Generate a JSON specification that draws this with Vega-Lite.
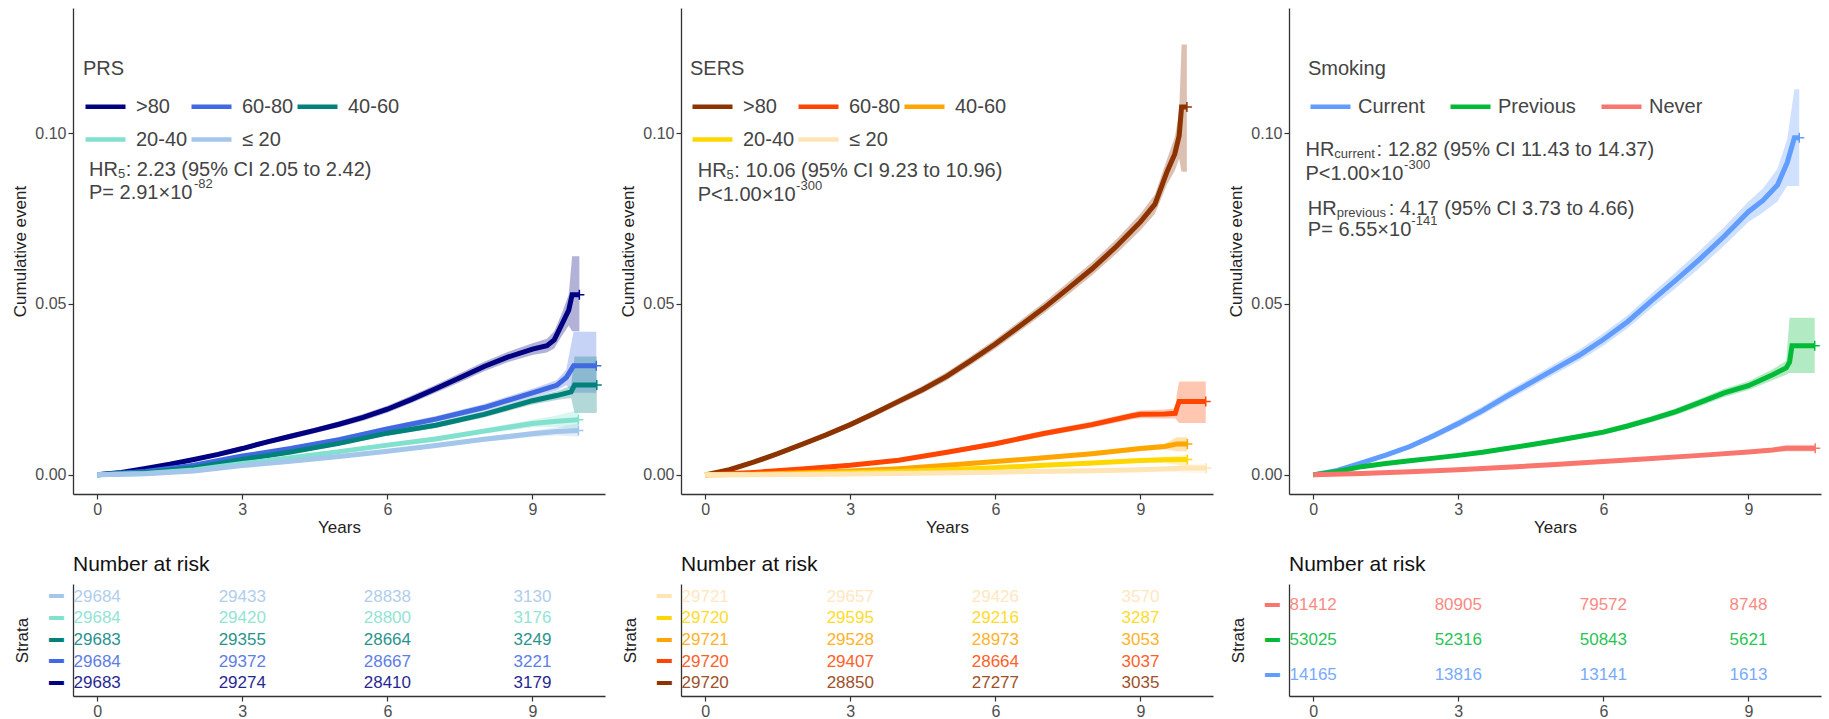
{
"$schema": "https://vega.github.io/schema/vega-lite/v6.json",
"padding": {"left": 11, "top": 8, "right": 0, "bottom": 0},
"background": "white",
"config": {
  "view": {"stroke": null},
  "font": "Liberation Sans",
  "axis": {"grid": false, "domainColor": "#333333", "domainWidth": 1.3, "tickColor": "#333333", "tickWidth": 1.2, "tickSize": 5, "labelFont": "Liberation Sans", "labelFontSize": 16, "labelColor": "#4d4d4d", "labelPadding": 2, "titleFont": "Liberation Sans", "titleFontSize": 17, "titleFontWeight": "normal", "titleColor": "#222222"},
  "legend": {"labelFont": "Liberation Sans", "titleFont": "Liberation Sans"}
},
"datasets": {
  "prs": [
    {"g":">80","t":0,"e":0,"lo":0,"hi":0},
    {"g":">80","t":0.5,"e":0.0007,"lo":0.0005,"hi":0.0009},
    {"g":">80","t":1,"e":0.0019,"lo":0.0016,"hi":0.0022},
    {"g":">80","t":1.5,"e":0.0031,"lo":0.0027,"hi":0.0035},
    {"g":">80","t":2,"e":0.0045,"lo":0.0040,"hi":0.0050},
    {"g":">80","t":2.5,"e":0.0060,"lo":0.0054,"hi":0.0066},
    {"g":">80","t":3,"e":0.0077,"lo":0.0070,"hi":0.0084},
    {"g":">80","t":3.5,"e":0.0096,"lo":0.0089,"hi":0.0103},
    {"g":">80","t":4,"e":0.0113,"lo":0.0105,"hi":0.0121},
    {"g":">80","t":4.5,"e":0.0130,"lo":0.0122,"hi":0.0138},
    {"g":">80","t":5,"e":0.0148,"lo":0.0139,"hi":0.0157},
    {"g":">80","t":5.5,"e":0.0168,"lo":0.0158,"hi":0.0178},
    {"g":">80","t":6,"e":0.0192,"lo":0.0182,"hi":0.0202},
    {"g":">80","t":6.5,"e":0.0221,"lo":0.0210,"hi":0.0232},
    {"g":">80","t":7,"e":0.0252,"lo":0.0240,"hi":0.0264},
    {"g":">80","t":7.5,"e":0.0284,"lo":0.0271,"hi":0.0297},
    {"g":">80","t":8,"e":0.0317,"lo":0.0303,"hi":0.0331},
    {"g":">80","t":8.5,"e":0.0345,"lo":0.0330,"hi":0.0360},
    {"g":">80","t":9,"e":0.0368,"lo":0.0351,"hi":0.0385},
    {"g":">80","t":9.3,"e":0.0378,"lo":0.0358,"hi":0.0398},
    {"g":">80","t":9.45,"e":0.0395,"lo":0.0370,"hi":0.0420},
    {"g":">80","t":9.6,"e":0.0438,"lo":0.0405,"hi":0.0471},
    {"g":">80","t":9.75,"e":0.0482,"lo":0.0437,"hi":0.0527},
    {"g":">80","t":9.82,"e":0.0527,"lo":0.0420,"hi":0.0640},
    {"g":">80","t":9.97,"e":0.0527,"lo":0.0420,"hi":0.0640},
    {"g":"60-80","t":0,"e":0,"lo":0,"hi":0},
    {"g":"60-80","t":1,"e":0.0010,"lo":0.0008,"hi":0.0012},
    {"g":"60-80","t":2,"e":0.0028,"lo":0.0024,"hi":0.0032},
    {"g":"60-80","t":3,"e":0.0055,"lo":0.0050,"hi":0.0060},
    {"g":"60-80","t":4,"e":0.0077,"lo":0.0071,"hi":0.0083},
    {"g":"60-80","t":5,"e":0.0103,"lo":0.0096,"hi":0.0110},
    {"g":"60-80","t":6,"e":0.0134,"lo":0.0126,"hi":0.0142},
    {"g":"60-80","t":7,"e":0.0163,"lo":0.0154,"hi":0.0172},
    {"g":"60-80","t":8,"e":0.0197,"lo":0.0187,"hi":0.0207},
    {"g":"60-80","t":9,"e":0.0240,"lo":0.0228,"hi":0.0252},
    {"g":"60-80","t":9.5,"e":0.0262,"lo":0.0247,"hi":0.0277},
    {"g":"60-80","t":9.7,"e":0.0285,"lo":0.0262,"hi":0.0308},
    {"g":"60-80","t":9.85,"e":0.0319,"lo":0.0240,"hi":0.0419},
    {"g":"60-80","t":10.32,"e":0.0319,"lo":0.0240,"hi":0.0419},
    {"g":"40-60","t":0,"e":0,"lo":0,"hi":0},
    {"g":"40-60","t":1,"e":0.0007,"lo":0.0005,"hi":0.0009},
    {"g":"40-60","t":2,"e":0.0021,"lo":0.0018,"hi":0.0024},
    {"g":"40-60","t":3,"e":0.0045,"lo":0.0041,"hi":0.0049},
    {"g":"40-60","t":4,"e":0.0067,"lo":0.0062,"hi":0.0072},
    {"g":"40-60","t":5,"e":0.0092,"lo":0.0086,"hi":0.0098},
    {"g":"40-60","t":6,"e":0.0122,"lo":0.0115,"hi":0.0129},
    {"g":"40-60","t":7,"e":0.0145,"lo":0.0137,"hi":0.0153},
    {"g":"40-60","t":8,"e":0.0177,"lo":0.0168,"hi":0.0186},
    {"g":"40-60","t":9,"e":0.0217,"lo":0.0206,"hi":0.0228},
    {"g":"40-60","t":9.5,"e":0.0232,"lo":0.0219,"hi":0.0245},
    {"g":"40-60","t":9.8,"e":0.0243,"lo":0.0225,"hi":0.0261},
    {"g":"40-60","t":9.87,"e":0.0263,"lo":0.0181,"hi":0.0346},
    {"g":"40-60","t":10.33,"e":0.0263,"lo":0.0181,"hi":0.0346},
    {"g":"20-40","t":0,"e":0,"lo":0,"hi":0},
    {"g":"20-40","t":1,"e":0.0004,"lo":0.0003,"hi":0.0005},
    {"g":"20-40","t":2,"e":0.0014,"lo":0.0012,"hi":0.0016},
    {"g":"20-40","t":3,"e":0.0033,"lo":0.0030,"hi":0.0036},
    {"g":"20-40","t":4,"e":0.0050,"lo":0.0046,"hi":0.0054},
    {"g":"20-40","t":5,"e":0.0068,"lo":0.0063,"hi":0.0073},
    {"g":"20-40","t":6,"e":0.0087,"lo":0.0081,"hi":0.0093},
    {"g":"20-40","t":7,"e":0.0105,"lo":0.0098,"hi":0.0112},
    {"g":"20-40","t":8,"e":0.0128,"lo":0.0120,"hi":0.0136},
    {"g":"20-40","t":9,"e":0.0150,"lo":0.0139,"hi":0.0161},
    {"g":"20-40","t":9.5,"e":0.0157,"lo":0.0140,"hi":0.0174},
    {"g":"20-40","t":9.95,"e":0.0161,"lo":0.0133,"hi":0.0190},
    {"g":"≤ 20","t":0,"e":0,"lo":0,"hi":0},
    {"g":"≤ 20","t":1,"e":0.0003,"lo":0.0002,"hi":0.0004},
    {"g":"≤ 20","t":2,"e":0.0011,"lo":0.0009,"hi":0.0013},
    {"g":"≤ 20","t":3,"e":0.0027,"lo":0.0024,"hi":0.0030},
    {"g":"≤ 20","t":4,"e":0.0040,"lo":0.0036,"hi":0.0044},
    {"g":"≤ 20","t":5,"e":0.0054,"lo":0.0050,"hi":0.0058},
    {"g":"≤ 20","t":6,"e":0.0069,"lo":0.0064,"hi":0.0074},
    {"g":"≤ 20","t":7,"e":0.0086,"lo":0.0080,"hi":0.0092},
    {"g":"≤ 20","t":8,"e":0.0104,"lo":0.0097,"hi":0.0111},
    {"g":"≤ 20","t":9,"e":0.0120,"lo":0.0111,"hi":0.0129},
    {"g":"≤ 20","t":9.5,"e":0.0127,"lo":0.0115,"hi":0.0139},
    {"g":"≤ 20","t":9.95,"e":0.0130,"lo":0.0112,"hi":0.0150}
  ],
  "sers": [
    {"g":">80","t":0,"e":0,"lo":0,"hi":0},
    {"g":">80","t":0.5,"e":0.0015,"lo":0.0012,"hi":0.0018},
    {"g":">80","t":1,"e":0.0037,"lo":0.0033,"hi":0.0041},
    {"g":">80","t":1.5,"e":0.0062,"lo":0.0057,"hi":0.0067},
    {"g":">80","t":2,"e":0.0089,"lo":0.0083,"hi":0.0095},
    {"g":">80","t":2.5,"e":0.0117,"lo":0.0110,"hi":0.0124},
    {"g":">80","t":3,"e":0.0147,"lo":0.0139,"hi":0.0155},
    {"g":">80","t":3.5,"e":0.0180,"lo":0.0171,"hi":0.0189},
    {"g":">80","t":4,"e":0.0215,"lo":0.0205,"hi":0.0225},
    {"g":">80","t":4.5,"e":0.0250,"lo":0.0239,"hi":0.0261},
    {"g":">80","t":5,"e":0.0289,"lo":0.0277,"hi":0.0301},
    {"g":">80","t":5.5,"e":0.0335,"lo":0.0322,"hi":0.0348},
    {"g":">80","t":6,"e":0.0383,"lo":0.0369,"hi":0.0397},
    {"g":">80","t":6.5,"e":0.0435,"lo":0.0420,"hi":0.0450},
    {"g":">80","t":7,"e":0.0488,"lo":0.0472,"hi":0.0504},
    {"g":">80","t":7.5,"e":0.0545,"lo":0.0527,"hi":0.0563},
    {"g":">80","t":8,"e":0.0603,"lo":0.0584,"hi":0.0622},
    {"g":">80","t":8.5,"e":0.0668,"lo":0.0647,"hi":0.0689},
    {"g":">80","t":9,"e":0.0740,"lo":0.0716,"hi":0.0764},
    {"g":">80","t":9.3,"e":0.0792,"lo":0.0764,"hi":0.0820},
    {"g":">80","t":9.55,"e":0.0887,"lo":0.0850,"hi":0.0924},
    {"g":">80","t":9.71,"e":0.0939,"lo":0.0890,"hi":0.0988},
    {"g":">80","t":9.8,"e":0.0992,"lo":0.0925,"hi":0.1060},
    {"g":">80","t":9.85,"e":0.1076,"lo":0.0887,"hi":0.1259},
    {"g":">80","t":9.96,"e":0.1076,"lo":0.0887,"hi":0.1259},
    {"g":"60-80","t":0,"e":0,"lo":0,"hi":0},
    {"g":"60-80","t":1,"e":0.0007,"lo":0.0005,"hi":0.0009},
    {"g":"60-80","t":2,"e":0.0017,"lo":0.0014,"hi":0.0020},
    {"g":"60-80","t":3,"e":0.0028,"lo":0.0024,"hi":0.0032},
    {"g":"60-80","t":4,"e":0.0043,"lo":0.0038,"hi":0.0048},
    {"g":"60-80","t":5,"e":0.0066,"lo":0.0060,"hi":0.0072},
    {"g":"60-80","t":6,"e":0.0091,"lo":0.0084,"hi":0.0098},
    {"g":"60-80","t":7,"e":0.0121,"lo":0.0113,"hi":0.0129},
    {"g":"60-80","t":8,"e":0.0147,"lo":0.0138,"hi":0.0156},
    {"g":"60-80","t":8.8,"e":0.0172,"lo":0.0162,"hi":0.0182},
    {"g":"60-80","t":9,"e":0.0177,"lo":0.0166,"hi":0.0188},
    {"g":"60-80","t":9.5,"e":0.0178,"lo":0.0165,"hi":0.0191},
    {"g":"60-80","t":9.72,"e":0.0180,"lo":0.0165,"hi":0.0195},
    {"g":"60-80","t":9.75,"e":0.0195,"lo":0.0160,"hi":0.0235},
    {"g":"60-80","t":9.8,"e":0.0215,"lo":0.0152,"hi":0.0273},
    {"g":"60-80","t":10.35,"e":0.0215,"lo":0.0152,"hi":0.0273},
    {"g":"40-60","t":0,"e":0,"lo":0,"hi":0},
    {"g":"40-60","t":1,"e":0.0002,"lo":0.0001,"hi":0.0003},
    {"g":"40-60","t":2,"e":0.0006,"lo":0.0004,"hi":0.0008},
    {"g":"40-60","t":3,"e":0.0011,"lo":0.0009,"hi":0.0013},
    {"g":"40-60","t":4,"e":0.0018,"lo":0.0015,"hi":0.0021},
    {"g":"40-60","t":5,"e":0.0028,"lo":0.0025,"hi":0.0031},
    {"g":"40-60","t":6,"e":0.0039,"lo":0.0035,"hi":0.0043},
    {"g":"40-60","t":7,"e":0.0050,"lo":0.0045,"hi":0.0055},
    {"g":"40-60","t":8,"e":0.0062,"lo":0.0056,"hi":0.0068},
    {"g":"40-60","t":9,"e":0.0077,"lo":0.0070,"hi":0.0084},
    {"g":"40-60","t":9.5,"e":0.0083,"lo":0.0075,"hi":0.0091},
    {"g":"40-60","t":9.75,"e":0.0090,"lo":0.0069,"hi":0.0110},
    {"g":"40-60","t":9.97,"e":0.0090,"lo":0.0069,"hi":0.0110},
    {"g":"20-40","t":0,"e":0,"lo":0,"hi":0},
    {"g":"20-40","t":1,"e":0.0001,"lo":0,"hi":0.0002},
    {"g":"20-40","t":2,"e":0.0003,"lo":0.0002,"hi":0.0004},
    {"g":"20-40","t":3,"e":0.0006,"lo":0.0004,"hi":0.0008},
    {"g":"20-40","t":4,"e":0.0010,"lo":0.0008,"hi":0.0012},
    {"g":"20-40","t":5,"e":0.0015,"lo":0.0012,"hi":0.0018},
    {"g":"20-40","t":6,"e":0.0021,"lo":0.0018,"hi":0.0024},
    {"g":"20-40","t":7,"e":0.0028,"lo":0.0024,"hi":0.0032},
    {"g":"20-40","t":8,"e":0.0035,"lo":0.0030,"hi":0.0040},
    {"g":"20-40","t":9,"e":0.0042,"lo":0.0036,"hi":0.0048},
    {"g":"20-40","t":9.5,"e":0.0044,"lo":0.0035,"hi":0.0053},
    {"g":"20-40","t":9.97,"e":0.0045,"lo":0.0026,"hi":0.0058},
    {"g":"≤ 20","t":0,"e":0,"lo":0,"hi":0},
    {"g":"≤ 20","t":2,"e":0.0001,"lo":0,"hi":0.0002},
    {"g":"≤ 20","t":4,"e":0.0004,"lo":0.0002,"hi":0.0006},
    {"g":"≤ 20","t":6,"e":0.0008,"lo":0.0005,"hi":0.0011},
    {"g":"≤ 20","t":8,"e":0.0012,"lo":0.0008,"hi":0.0016},
    {"g":"≤ 20","t":9,"e":0.0015,"lo":0.0010,"hi":0.0020},
    {"g":"≤ 20","t":9.6,"e":0.0018,"lo":0.0010,"hi":0.0026},
    {"g":"≤ 20","t":9.97,"e":0.0020,"lo":0.0005,"hi":0.0031},
    {"g":"≤ 20","t":10.36,"e":0.0020,"lo":0.0005,"hi":0.0031}
  ],
  "smk": [
    {"g":"Current","t":0,"e":0,"lo":0,"hi":0},
    {"g":"Current","t":0.5,"e":0.0013,"lo":0.0009,"hi":0.0017},
    {"g":"Current","t":1,"e":0.0035,"lo":0.0029,"hi":0.0041},
    {"g":"Current","t":1.5,"e":0.0058,"lo":0.0051,"hi":0.0065},
    {"g":"Current","t":2,"e":0.0083,"lo":0.0075,"hi":0.0091},
    {"g":"Current","t":2.5,"e":0.0115,"lo":0.0106,"hi":0.0124},
    {"g":"Current","t":3,"e":0.0150,"lo":0.0139,"hi":0.0161},
    {"g":"Current","t":3.5,"e":0.0188,"lo":0.0176,"hi":0.0200},
    {"g":"Current","t":4,"e":0.0230,"lo":0.0217,"hi":0.0243},
    {"g":"Current","t":4.5,"e":0.0270,"lo":0.0256,"hi":0.0284},
    {"g":"Current","t":5,"e":0.0310,"lo":0.0295,"hi":0.0325},
    {"g":"Current","t":5.5,"e":0.0350,"lo":0.0334,"hi":0.0366},
    {"g":"Current","t":6,"e":0.0396,"lo":0.0378,"hi":0.0414},
    {"g":"Current","t":6.5,"e":0.0448,"lo":0.0429,"hi":0.0467},
    {"g":"Current","t":7,"e":0.0510,"lo":0.0489,"hi":0.0531},
    {"g":"Current","t":7.5,"e":0.0570,"lo":0.0547,"hi":0.0593},
    {"g":"Current","t":8,"e":0.0632,"lo":0.0607,"hi":0.0657},
    {"g":"Current","t":8.5,"e":0.0698,"lo":0.0671,"hi":0.0725},
    {"g":"Current","t":9,"e":0.0770,"lo":0.0740,"hi":0.0800},
    {"g":"Current","t":9.3,"e":0.0803,"lo":0.0768,"hi":0.0838},
    {"g":"Current","t":9.6,"e":0.0848,"lo":0.0800,"hi":0.0896},
    {"g":"Current","t":9.8,"e":0.0913,"lo":0.0845,"hi":0.0981},
    {"g":"Current","t":9.95,"e":0.0986,"lo":0.0845,"hi":0.1128},
    {"g":"Current","t":10.05,"e":0.0986,"lo":0.0845,"hi":0.1128},
    {"g":"Previous","t":0,"e":0,"lo":0,"hi":0},
    {"g":"Previous","t":0.5,"e":0.0010,"lo":0.0008,"hi":0.0012},
    {"g":"Previous","t":1,"e":0.0024,"lo":0.0021,"hi":0.0027},
    {"g":"Previous","t":1.5,"e":0.0033,"lo":0.0030,"hi":0.0036},
    {"g":"Previous","t":2,"e":0.0041,"lo":0.0037,"hi":0.0045},
    {"g":"Previous","t":2.5,"e":0.0049,"lo":0.0045,"hi":0.0053},
    {"g":"Previous","t":3,"e":0.0057,"lo":0.0052,"hi":0.0062},
    {"g":"Previous","t":3.5,"e":0.0066,"lo":0.0061,"hi":0.0071},
    {"g":"Previous","t":4,"e":0.0077,"lo":0.0071,"hi":0.0083},
    {"g":"Previous","t":4.5,"e":0.0088,"lo":0.0082,"hi":0.0094},
    {"g":"Previous","t":5,"e":0.0100,"lo":0.0093,"hi":0.0107},
    {"g":"Previous","t":5.5,"e":0.0112,"lo":0.0105,"hi":0.0119},
    {"g":"Previous","t":6,"e":0.0125,"lo":0.0117,"hi":0.0133},
    {"g":"Previous","t":6.5,"e":0.0143,"lo":0.0135,"hi":0.0151},
    {"g":"Previous","t":7,"e":0.0163,"lo":0.0154,"hi":0.0172},
    {"g":"Previous","t":7.5,"e":0.0185,"lo":0.0175,"hi":0.0195},
    {"g":"Previous","t":8,"e":0.0212,"lo":0.0201,"hi":0.0223},
    {"g":"Previous","t":8.5,"e":0.0240,"lo":0.0228,"hi":0.0252},
    {"g":"Previous","t":9,"e":0.0261,"lo":0.0248,"hi":0.0274},
    {"g":"Previous","t":9.5,"e":0.0293,"lo":0.0277,"hi":0.0309},
    {"g":"Previous","t":9.78,"e":0.0313,"lo":0.0293,"hi":0.0333},
    {"g":"Previous","t":9.85,"e":0.0330,"lo":0.0298,"hi":0.0460},
    {"g":"Previous","t":9.9,"e":0.0378,"lo":0.0298,"hi":0.0460},
    {"g":"Previous","t":10.37,"e":0.0378,"lo":0.0298,"hi":0.0460},
    {"g":"Never","t":0,"e":0,"lo":0,"hi":0},
    {"g":"Never","t":1,"e":0.0004,"lo":0.0003,"hi":0.0005},
    {"g":"Never","t":2,"e":0.0009,"lo":0.0008,"hi":0.0010},
    {"g":"Never","t":3,"e":0.0015,"lo":0.0013,"hi":0.0017},
    {"g":"Never","t":4,"e":0.0022,"lo":0.0020,"hi":0.0024},
    {"g":"Never","t":5,"e":0.0030,"lo":0.0027,"hi":0.0033},
    {"g":"Never","t":6,"e":0.0039,"lo":0.0036,"hi":0.0042},
    {"g":"Never","t":7,"e":0.0048,"lo":0.0044,"hi":0.0052},
    {"g":"Never","t":8,"e":0.0057,"lo":0.0053,"hi":0.0061},
    {"g":"Never","t":9,"e":0.0067,"lo":0.0062,"hi":0.0072},
    {"g":"Never","t":9.5,"e":0.0073,"lo":0.0067,"hi":0.0079},
    {"g":"Never","t":9.78,"e":0.0078,"lo":0.0068,"hi":0.0088},
    {"g":"Never","t":10.38,"e":0.0078,"lo":0.0068,"hi":0.0088}
  ],
  "notes": [
    {"p":"PRS","k":"main","t":-0.17,"v":0.0891,"s":"HR"},
    {"p":"PRS","k":"sub","t":0.43,"v":0.0891,"s":"5"},
    {"p":"PRS","k":"main","t":0.59,"v":0.0891,"s":": 2.23 (95% CI 2.05 to 2.42)"},
    {"p":"PRS","k":"main","t":-0.17,"v":0.0824,"s":"P= 2.91×10"},
    {"p":"PRS","k":"sup","t":2.0,"v":0.0824,"s":"-82"},
    {"p":"SERS","k":"main","t":-0.155,"v":0.0889,"s":"HR"},
    {"p":"SERS","k":"sub","t":0.443,"v":0.0889,"s":"5"},
    {"p":"SERS","k":"main","t":0.603,"v":0.0889,"s":": 10.06 (95% CI 9.23 to 10.96)"},
    {"p":"SERS","k":"main","t":-0.155,"v":0.0820,"s":"P<1.00×10"},
    {"p":"SERS","k":"sup","t":1.88,"v":0.0820,"s":"-300"},
    {"p":"SMK","k":"main","t":-0.16,"v":0.0950,"s":"HR"},
    {"p":"SMK","k":"sub","t":0.438,"v":0.0950,"s":"current"},
    {"p":"SMK","k":"main","t":1.31,"v":0.0950,"s":": 12.82 (95% CI 11.43 to 14.37)"},
    {"p":"SMK","k":"main","t":-0.16,"v":0.0880,"s":"P<1.00×10"},
    {"p":"SMK","k":"sup","t":1.88,"v":0.0880,"s":"-300"},
    {"p":"SMK","k":"main","t":-0.11,"v":0.0779,"s":"HR"},
    {"p":"SMK","k":"sub","t":0.488,"v":0.0779,"s":"previous"},
    {"p":"SMK","k":"main","t":1.56,"v":0.0779,"s":": 4.17 (95% CI 3.73 to 4.66)"},
    {"p":"SMK","k":"main","t":-0.11,"v":0.0716,"s":"P= 6.55×10"},
    {"p":"SMK","k":"sup","t":2.03,"v":0.0716,"s":"-141"}
  ],
  "risk": [
    {"p":"PRS","g":"≤ 20","t":0,"n":29684},{"p":"PRS","g":"≤ 20","t":3,"n":29433},{"p":"PRS","g":"≤ 20","t":6,"n":28838},{"p":"PRS","g":"≤ 20","t":9,"n":3130},
    {"p":"PRS","g":"20-40","t":0,"n":29684},{"p":"PRS","g":"20-40","t":3,"n":29420},{"p":"PRS","g":"20-40","t":6,"n":28800},{"p":"PRS","g":"20-40","t":9,"n":3176},
    {"p":"PRS","g":"40-60","t":0,"n":29683},{"p":"PRS","g":"40-60","t":3,"n":29355},{"p":"PRS","g":"40-60","t":6,"n":28664},{"p":"PRS","g":"40-60","t":9,"n":3249},
    {"p":"PRS","g":"60-80","t":0,"n":29684},{"p":"PRS","g":"60-80","t":3,"n":29372},{"p":"PRS","g":"60-80","t":6,"n":28667},{"p":"PRS","g":"60-80","t":9,"n":3221},
    {"p":"PRS","g":">80","t":0,"n":29683},{"p":"PRS","g":">80","t":3,"n":29274},{"p":"PRS","g":">80","t":6,"n":28410},{"p":"PRS","g":">80","t":9,"n":3179},
    {"p":"SERS","g":"≤ 20","t":0,"n":29721},{"p":"SERS","g":"≤ 20","t":3,"n":29657},{"p":"SERS","g":"≤ 20","t":6,"n":29426},{"p":"SERS","g":"≤ 20","t":9,"n":3570},
    {"p":"SERS","g":"20-40","t":0,"n":29720},{"p":"SERS","g":"20-40","t":3,"n":29595},{"p":"SERS","g":"20-40","t":6,"n":29216},{"p":"SERS","g":"20-40","t":9,"n":3287},
    {"p":"SERS","g":"40-60","t":0,"n":29721},{"p":"SERS","g":"40-60","t":3,"n":29528},{"p":"SERS","g":"40-60","t":6,"n":28973},{"p":"SERS","g":"40-60","t":9,"n":3053},
    {"p":"SERS","g":"60-80","t":0,"n":29720},{"p":"SERS","g":"60-80","t":3,"n":29407},{"p":"SERS","g":"60-80","t":6,"n":28664},{"p":"SERS","g":"60-80","t":9,"n":3037},
    {"p":"SERS","g":">80","t":0,"n":29720},{"p":"SERS","g":">80","t":3,"n":28850},{"p":"SERS","g":">80","t":6,"n":27277},{"p":"SERS","g":">80","t":9,"n":3035},
    {"p":"SMK","g":"Never","t":0,"n":81412},{"p":"SMK","g":"Never","t":3,"n":80905},{"p":"SMK","g":"Never","t":6,"n":79572},{"p":"SMK","g":"Never","t":9,"n":8748},
    {"p":"SMK","g":"Previous","t":0,"n":53025},{"p":"SMK","g":"Previous","t":3,"n":52316},{"p":"SMK","g":"Previous","t":6,"n":50843},{"p":"SMK","g":"Previous","t":9,"n":5621},
    {"p":"SMK","g":"Current","t":0,"n":14165},{"p":"SMK","g":"Current","t":3,"n":13816},{"p":"SMK","g":"Current","t":6,"n":13141},{"p":"SMK","g":"Current","t":9,"n":1613}
  ]
},
"columns": 3,
"bounds": "flush",
"align": "each",
"spacing": {"row": 90, "column": 76},
"resolve": {"scale": {"x": "independent", "y": "independent", "color": "independent"}, "legend": {"color": "independent"}},
"concat": [
  {
    "width": 532, "height": 486,
    "layer": [
      {"data": {"name": "prs"}, "mark": {"type": "area", "fillOpacity": 0.3},
       "encoding": {
         "x": {"field": "t", "type": "quantitative", "scale": {"domain": [-0.5, 10.5], "nice": false, "zero": false}, "axis": {"values": [0, 3, 6, 9], "title": "Years", "titlePadding": 2, "labelFlush": false}},
         "y": {"field": "lo", "type": "quantitative", "scale": {"domain": [-0.0056, 0.1366], "nice": false, "zero": false}, "axis": {"values": [0, 0.05, 0.1], "format": ".2f", "title": "Cumulative event", "titlePadding": 5, "labelFlush": false}},
         "y2": {"field": "hi"},
         "color": {"field": "g", "type": "nominal", "scale": {"domain": [">80", "60-80", "40-60", "20-40", "≤ 20"], "range": ["#000080", "#4169E1", "#00827A", "#82E0CE", "#A3C6EA"]}}
       }},
      {"data": {"name": "prs"}, "mark": {"type": "line", "strokeWidth": 5},
       "encoding": {
         "x": {"field": "t", "type": "quantitative", "scale": {"domain": [-0.5, 10.5], "nice": false, "zero": false}},
         "y": {"field": "e", "type": "quantitative", "scale": {"domain": [-0.0056, 0.1366], "nice": false, "zero": false}},
         "color": {"field": "g", "type": "nominal", "scale": {"domain": [">80", "60-80", "40-60", "20-40", "≤ 20"], "range": ["#000080", "#4169E1", "#00827A", "#82E0CE", "#A3C6EA"]},
           "legend": {"title": "PRS", "orient": "none", "legendX": 10, "legendY": 51, "direction": "horizontal", "columns": 3, "symbolType": "stroke", "symbolSize": 1600, "symbolStrokeWidth": 4.5, "symbolOpacity": 1, "labelFontSize": 20, "titleFontSize": 20, "titleFontWeight": "normal", "labelColor": "#444444", "titleColor": "#444444", "rowPadding": -9, "columnPadding": -6, "titlePadding": 5, "labelOffset": 8, "padding": 0, "gridAlign": "each"}}
       }},
      {"data": {"name": "prs"}, "transform": [{"joinaggregate": [{"op": "max", "field": "t", "as": "tm"}], "groupby": ["g"]}, {"filter": "datum.t == datum.tm"}],
       "mark": {"type": "point", "shape": "M-1,0L1,0M0,-1L0,1", "size": 100, "strokeWidth": 1.5, "filled": false, "opacity": 1},
       "encoding": {
         "x": {"field": "t", "type": "quantitative", "scale": {"domain": [-0.5, 10.5], "nice": false, "zero": false}},
         "y": {"field": "e", "type": "quantitative", "scale": {"domain": [-0.0056, 0.1366], "nice": false, "zero": false}},
         "color": {"field": "g", "type": "nominal", "scale": {"domain": [">80", "60-80", "40-60", "20-40", "≤ 20"], "range": ["#000080", "#4169E1", "#00827A", "#82E0CE", "#A3C6EA"]}}
       }},
      {"data": {"name": "notes"}, "transform": [{"filter": "datum.p == 'PRS' && datum.k == 'main'"}],
       "mark": {"type": "text", "align": "left", "baseline": "middle", "fontSize": 20, "color": "#444444"},
       "encoding": {"x": {"field": "t", "type": "quantitative"}, "y": {"field": "v", "type": "quantitative"}, "text": {"field": "s"}}},
      {"data": {"name": "notes"}, "transform": [{"filter": "datum.p == 'PRS' && datum.k == 'sub'"}],
       "mark": {"type": "text", "align": "left", "baseline": "middle", "fontSize": 13, "dy": 4, "color": "#444444"},
       "encoding": {"x": {"field": "t", "type": "quantitative"}, "y": {"field": "v", "type": "quantitative"}, "text": {"field": "s"}}},
      {"data": {"name": "notes"}, "transform": [{"filter": "datum.p == 'PRS' && datum.k == 'sup'"}],
       "mark": {"type": "text", "align": "left", "baseline": "middle", "fontSize": 13, "dy": -9, "color": "#444444"},
       "encoding": {"x": {"field": "t", "type": "quantitative"}, "y": {"field": "v", "type": "quantitative"}, "text": {"field": "s"}}}
    ]
  },
  {
    "width": 532, "height": 486,
    "layer": [
      {"data": {"name": "sers"}, "mark": {"type": "area", "fillOpacity": 0.3},
       "encoding": {
         "x": {"field": "t", "type": "quantitative", "scale": {"domain": [-0.5, 10.5], "nice": false, "zero": false}, "axis": {"values": [0, 3, 6, 9], "title": "Years", "titlePadding": 2, "labelFlush": false}},
         "y": {"field": "lo", "type": "quantitative", "scale": {"domain": [-0.0056, 0.1366], "nice": false, "zero": false}, "axis": {"values": [0, 0.05, 0.1], "format": ".2f", "title": "Cumulative event", "titlePadding": 5, "labelFlush": false}},
         "y2": {"field": "hi"},
         "color": {"field": "g", "type": "nominal", "scale": {"domain": [">80", "60-80", "40-60", "20-40", "≤ 20"], "range": ["#8C3300", "#FF4500", "#FFA500", "#FFD700", "#FFE4B5"]}}
       }},
      {"data": {"name": "sers"}, "mark": {"type": "line", "strokeWidth": 5},
       "encoding": {
         "x": {"field": "t", "type": "quantitative", "scale": {"domain": [-0.5, 10.5], "nice": false, "zero": false}},
         "y": {"field": "e", "type": "quantitative", "scale": {"domain": [-0.0056, 0.1366], "nice": false, "zero": false}},
         "color": {"field": "g", "type": "nominal", "scale": {"domain": [">80", "60-80", "40-60", "20-40", "≤ 20"], "range": ["#8C3300", "#FF4500", "#FFA500", "#FFD700", "#FFE4B5"]},
           "legend": {"title": "SERS", "orient": "none", "legendX": 9, "legendY": 51, "direction": "horizontal", "columns": 3, "symbolType": "stroke", "symbolSize": 1600, "symbolStrokeWidth": 4.5, "symbolOpacity": 1, "labelFontSize": 20, "titleFontSize": 20, "titleFontWeight": "normal", "labelColor": "#444444", "titleColor": "#444444", "rowPadding": -9, "columnPadding": -6, "titlePadding": 5, "labelOffset": 8, "padding": 0, "gridAlign": "each"}}
       }},
      {"data": {"name": "sers"}, "transform": [{"joinaggregate": [{"op": "max", "field": "t", "as": "tm"}], "groupby": ["g"]}, {"filter": "datum.t == datum.tm"}],
       "mark": {"type": "point", "shape": "M-1,0L1,0M0,-1L0,1", "size": 100, "strokeWidth": 1.5, "filled": false, "opacity": 1},
       "encoding": {
         "x": {"field": "t", "type": "quantitative", "scale": {"domain": [-0.5, 10.5], "nice": false, "zero": false}},
         "y": {"field": "e", "type": "quantitative", "scale": {"domain": [-0.0056, 0.1366], "nice": false, "zero": false}},
         "color": {"field": "g", "type": "nominal", "scale": {"domain": [">80", "60-80", "40-60", "20-40", "≤ 20"], "range": ["#8C3300", "#FF4500", "#FFA500", "#FFD700", "#FFE4B5"]}}
       }},
      {"data": {"name": "notes"}, "transform": [{"filter": "datum.p == 'SERS' && datum.k == 'main'"}],
       "mark": {"type": "text", "align": "left", "baseline": "middle", "fontSize": 20, "color": "#444444"},
       "encoding": {"x": {"field": "t", "type": "quantitative"}, "y": {"field": "v", "type": "quantitative"}, "text": {"field": "s"}}},
      {"data": {"name": "notes"}, "transform": [{"filter": "datum.p == 'SERS' && datum.k == 'sub'"}],
       "mark": {"type": "text", "align": "left", "baseline": "middle", "fontSize": 13, "dy": 4, "color": "#444444"},
       "encoding": {"x": {"field": "t", "type": "quantitative"}, "y": {"field": "v", "type": "quantitative"}, "text": {"field": "s"}}},
      {"data": {"name": "notes"}, "transform": [{"filter": "datum.p == 'SERS' && datum.k == 'sup'"}],
       "mark": {"type": "text", "align": "left", "baseline": "middle", "fontSize": 13, "dy": -9, "color": "#444444"},
       "encoding": {"x": {"field": "t", "type": "quantitative"}, "y": {"field": "v", "type": "quantitative"}, "text": {"field": "s"}}}
    ]
  },
  {
    "width": 532, "height": 486,
    "layer": [
      {"data": {"name": "smk"}, "mark": {"type": "area", "fillOpacity": 0.3},
       "encoding": {
         "x": {"field": "t", "type": "quantitative", "scale": {"domain": [-0.5, 10.5], "nice": false, "zero": false}, "axis": {"values": [0, 3, 6, 9], "title": "Years", "titlePadding": 2, "labelFlush": false}},
         "y": {"field": "lo", "type": "quantitative", "scale": {"domain": [-0.0056, 0.1366], "nice": false, "zero": false}, "axis": {"values": [0, 0.05, 0.1], "format": ".2f", "title": "Cumulative event", "titlePadding": 5, "labelFlush": false}},
         "y2": {"field": "hi"},
         "color": {"field": "g", "type": "nominal", "scale": {"domain": ["Current", "Previous", "Never"], "range": ["#619CFF", "#00BA38", "#F8766D"]}}
       }},
      {"data": {"name": "smk"}, "mark": {"type": "line", "strokeWidth": 5},
       "encoding": {
         "x": {"field": "t", "type": "quantitative", "scale": {"domain": [-0.5, 10.5], "nice": false, "zero": false}},
         "y": {"field": "e", "type": "quantitative", "scale": {"domain": [-0.0056, 0.1366], "nice": false, "zero": false}},
         "color": {"field": "g", "type": "nominal", "scale": {"domain": ["Current", "Previous", "Never"], "range": ["#619CFF", "#00BA38", "#F8766D"]},
           "legend": {"title": "Smoking", "orient": "none", "legendX": 19, "legendY": 51, "direction": "horizontal", "columns": 3, "symbolType": "stroke", "symbolSize": 1600, "symbolStrokeWidth": 4.5, "symbolOpacity": 1, "labelFontSize": 20, "titleFontSize": 20, "titleFontWeight": "normal", "labelColor": "#444444", "titleColor": "#444444", "rowPadding": -9, "columnPadding": 16, "titlePadding": 5, "labelOffset": 5, "padding": 0, "gridAlign": "each"}}
       }},
      {"data": {"name": "smk"}, "transform": [{"joinaggregate": [{"op": "max", "field": "t", "as": "tm"}], "groupby": ["g"]}, {"filter": "datum.t == datum.tm"}],
       "mark": {"type": "point", "shape": "M-1,0L1,0M0,-1L0,1", "size": 100, "strokeWidth": 1.5, "filled": false, "opacity": 1},
       "encoding": {
         "x": {"field": "t", "type": "quantitative", "scale": {"domain": [-0.5, 10.5], "nice": false, "zero": false}},
         "y": {"field": "e", "type": "quantitative", "scale": {"domain": [-0.0056, 0.1366], "nice": false, "zero": false}},
         "color": {"field": "g", "type": "nominal", "scale": {"domain": ["Current", "Previous", "Never"], "range": ["#619CFF", "#00BA38", "#F8766D"]}}
       }},
      {"data": {"name": "notes"}, "transform": [{"filter": "datum.p == 'SMK' && datum.k == 'main'"}],
       "mark": {"type": "text", "align": "left", "baseline": "middle", "fontSize": 20, "color": "#444444"},
       "encoding": {"x": {"field": "t", "type": "quantitative"}, "y": {"field": "v", "type": "quantitative"}, "text": {"field": "s"}}},
      {"data": {"name": "notes"}, "transform": [{"filter": "datum.p == 'SMK' && datum.k == 'sub'"}],
       "mark": {"type": "text", "align": "left", "baseline": "middle", "fontSize": 13, "dy": 4, "color": "#444444"},
       "encoding": {"x": {"field": "t", "type": "quantitative"}, "y": {"field": "v", "type": "quantitative"}, "text": {"field": "s"}}},
      {"data": {"name": "notes"}, "transform": [{"filter": "datum.p == 'SMK' && datum.k == 'sup'"}],
       "mark": {"type": "text", "align": "left", "baseline": "middle", "fontSize": 13, "dy": -9, "color": "#444444"},
       "encoding": {"x": {"field": "t", "type": "quantitative"}, "y": {"field": "v", "type": "quantitative"}, "text": {"field": "s"}}}
    ]
  },
  {
    "width": 532, "height": 112,
    "title": {"text": "Number at risk", "anchor": "start", "frame": "group", "fontSize": 21, "fontWeight": "normal", "color": "#111111", "offset": 9, "font": "Liberation Sans"},
    "data": {"name": "risk"},
    "transform": [{"filter": "datum.p == 'PRS'"}],
    "mark": {"type": "text", "fontSize": 17, "opacity": 0.85, "baseline": "middle", "align": "center"},
    "encoding": {
      "x": {"field": "t", "type": "quantitative", "scale": {"domain": [-0.5, 10.5], "nice": false, "zero": false}, "axis": {"values": [0, 3, 6, 9], "title": null, "labelFlush": false}},
      "y": {"field": "g", "type": "nominal", "scale": {"type": "point", "domain": ["≤ 20", "20-40", "40-60", "60-80", ">80"], "padding": 0.6},
            "axis": {"title": "Strata", "ticks": false, "labelExpr": "'━'", "labelFont": "DejaVu Sans", "labelFontSize": 24, "labelPadding": 10, "titlePadding": 17,
                     "labelColor": {"condition": [{"test": "datum.value == '>80'", "value": "#000080"}, {"test": "datum.value == '60-80'", "value": "#4169E1"}, {"test": "datum.value == '40-60'", "value": "#00827A"}, {"test": "datum.value == '20-40'", "value": "#82E0CE"}], "value": "#A3C6EA"}}},
      "color": {"field": "g", "type": "nominal", "scale": {"domain": [">80", "60-80", "40-60", "20-40", "≤ 20"], "range": ["#000080", "#4169E1", "#00827A", "#82E0CE", "#A3C6EA"]}, "legend": null},
      "text": {"field": "n", "type": "quantitative", "format": "d"}
    }
  },
  {
    "width": 532, "height": 112,
    "title": {"text": "Number at risk", "anchor": "start", "frame": "group", "fontSize": 21, "fontWeight": "normal", "color": "#111111", "offset": 9, "font": "Liberation Sans"},
    "data": {"name": "risk"},
    "transform": [{"filter": "datum.p == 'SERS'"}],
    "mark": {"type": "text", "fontSize": 17, "opacity": 0.85, "baseline": "middle", "align": "center"},
    "encoding": {
      "x": {"field": "t", "type": "quantitative", "scale": {"domain": [-0.5, 10.5], "nice": false, "zero": false}, "axis": {"values": [0, 3, 6, 9], "title": null, "labelFlush": false}},
      "y": {"field": "g", "type": "nominal", "scale": {"type": "point", "domain": ["≤ 20", "20-40", "40-60", "60-80", ">80"], "padding": 0.6},
            "axis": {"title": "Strata", "ticks": false, "labelExpr": "'━'", "labelFont": "DejaVu Sans", "labelFontSize": 24, "labelPadding": 10, "titlePadding": 17,
                     "labelColor": {"condition": [{"test": "datum.value == '>80'", "value": "#8C3300"}, {"test": "datum.value == '60-80'", "value": "#FF4500"}, {"test": "datum.value == '40-60'", "value": "#FFA500"}, {"test": "datum.value == '20-40'", "value": "#FFD700"}], "value": "#FFE4B5"}}},
      "color": {"field": "g", "type": "nominal", "scale": {"domain": [">80", "60-80", "40-60", "20-40", "≤ 20"], "range": ["#8C3300", "#FF4500", "#FFA500", "#FFD700", "#FFE4B5"]}, "legend": null},
      "text": {"field": "n", "type": "quantitative", "format": "d"}
    }
  },
  {
    "width": 532, "height": 112,
    "title": {"text": "Number at risk", "anchor": "start", "frame": "group", "fontSize": 21, "fontWeight": "normal", "color": "#111111", "offset": 9, "font": "Liberation Sans"},
    "data": {"name": "risk"},
    "transform": [{"filter": "datum.p == 'SMK'"}],
    "mark": {"type": "text", "fontSize": 17, "opacity": 0.85, "baseline": "middle", "align": "center"},
    "encoding": {
      "x": {"field": "t", "type": "quantitative", "scale": {"domain": [-0.5, 10.5], "nice": false, "zero": false}, "axis": {"values": [0, 3, 6, 9], "title": null, "labelFlush": false}},
      "y": {"field": "g", "type": "nominal", "scale": {"type": "point", "domain": ["Never", "Previous", "Current"], "padding": 0.6},
            "axis": {"title": "Strata", "ticks": false, "labelExpr": "'━'", "labelFont": "DejaVu Sans", "labelFontSize": 24, "labelPadding": 10, "titlePadding": 17,
                     "labelColor": {"condition": [{"test": "datum.value == 'Current'", "value": "#619CFF"}, {"test": "datum.value == 'Previous'", "value": "#00BA38"}], "value": "#F8766D"}}},
      "color": {"field": "g", "type": "nominal", "scale": {"domain": ["Current", "Previous", "Never"], "range": ["#619CFF", "#00BA38", "#F8766D"]}, "legend": null},
      "text": {"field": "n", "type": "quantitative", "format": "d"}
    }
  }
]
}
